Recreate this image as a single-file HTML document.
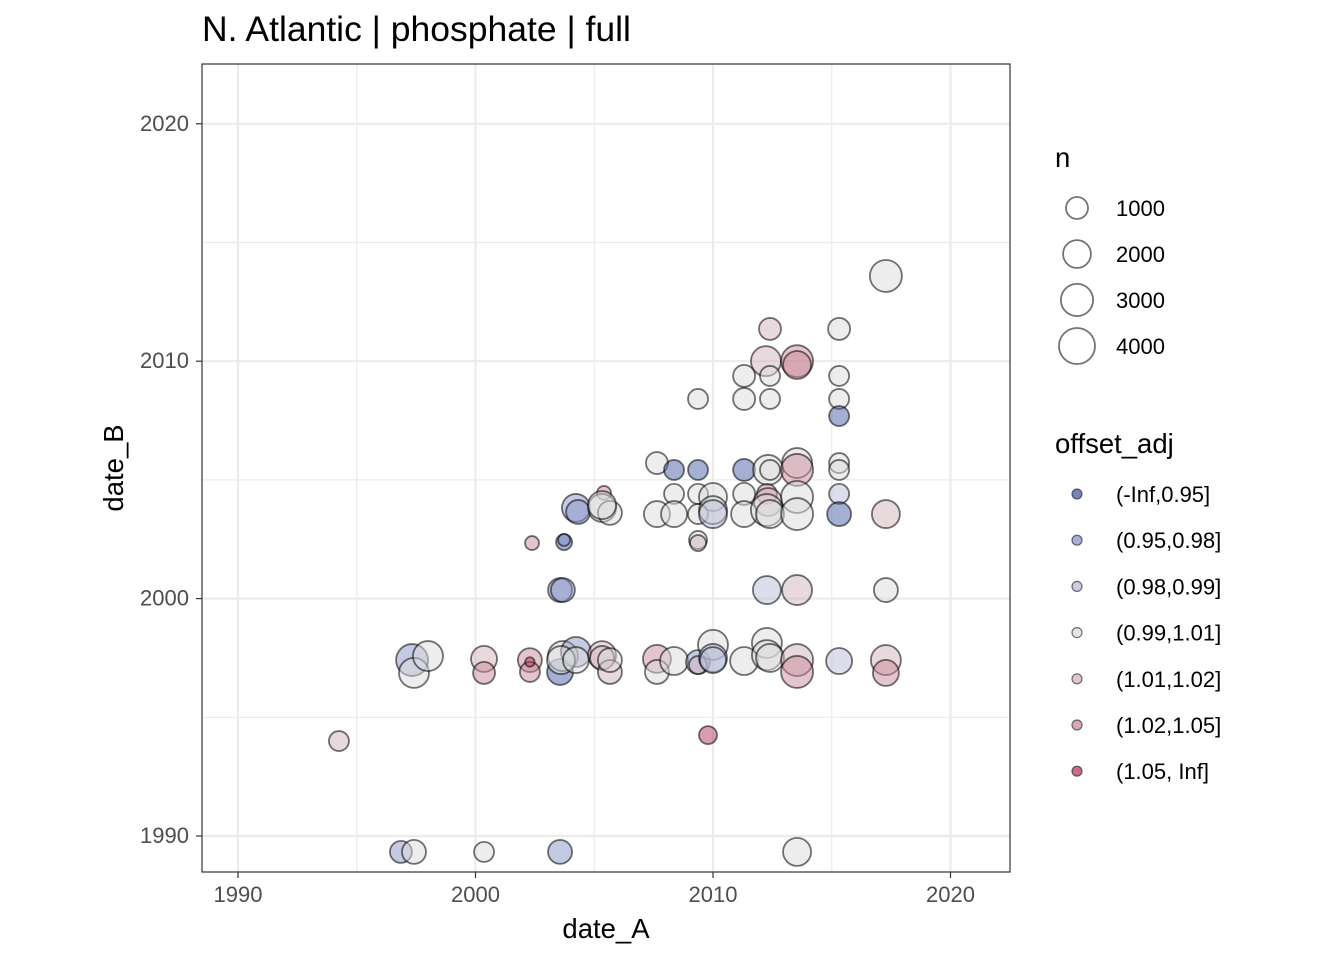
<!DOCTYPE html>
<html><head><meta charset="utf-8"><style>
body{margin:0;background:#fff;font-family:"Liberation Sans",sans-serif}
svg text{font-family:"Liberation Sans",sans-serif}
</style></head><body>
<svg id="chart" width="1344" height="960" xmlns="http://www.w3.org/2000/svg">
<text x="202" y="41" font-size="35.5" fill="#000">N. Atlantic | phosphate | full</text>
<rect x="202" y="64" width="808" height="808" fill="#fff"/>
<g id="grid"></g>
<g id="pts"></g>
<rect x="202" y="64" width="808" height="808" fill="none" stroke="#333" stroke-width="1.2"/>
<g id="axes"></g>
<text x="606" y="938" font-size="27.5" text-anchor="middle">date_A</text>
<text transform="translate(123,468) rotate(-90)" font-size="27.5" text-anchor="middle">date_B</text>
<g id="legend"></g>
</svg>
<script>
const dateA=[1994.25,1996.86,1997.41,2000.36,2003.56,2013.54,1997.33,1997.41,1998.0,2000.36,2000.36,2002.29,2002.29,2002.29,2003.56,2003.68,2004.23,2003.6,2004.23,2005.33,2005.33,2005.66,2005.66,2002.38,2003.73,2003.73,2003.56,2003.68,2004.23,2004.32,2005.41,2005.33,2005.66,2005.33,2009.79,2012.4,2015.31,2012.23,2013.54,2013.54,2011.31,2012.4,2015.31,2009.37,2011.31,2012.4,2015.31,2015.31,2007.64,2008.36,2009.37,2011.31,2012.32,2012.4,2013.54,2013.54,2015.31,2015.31,2008.36,2009.37,2010.0,2011.31,2012.27,2012.32,2013.54,2015.31,2007.64,2008.36,2009.37,2010.0,2010.0,2011.31,2012.27,2012.4,2013.54,2015.31,2017.28,2009.37,2009.37,2017.28,2012.27,2013.54,2017.28,2007.64,2007.64,2008.36,2009.37,2009.37,2010.0,2010.0,2010.0,2011.31,2012.27,2012.27,2012.4,2013.54,2013.54,2015.31,2017.28,2017.28];
const dateB=[1994.0,1989.33,1989.33,1989.33,1989.33,1989.33,1997.41,1996.87,1997.58,1997.46,1996.87,1997.41,1996.91,1997.33,1996.91,1997.58,1997.75,1997.41,1997.41,1997.62,1997.5,1996.91,1997.41,2002.34,2002.38,2002.47,2000.36,2000.36,2003.82,2003.65,2004.45,2003.82,2003.61,2003.94,1994.25,2011.36,2011.36,2010.0,2010.0,2009.84,2009.38,2009.38,2009.38,2008.41,2008.41,2008.41,2008.41,2007.69,2005.71,2005.42,2005.42,2005.42,2005.42,2005.42,2005.71,2005.42,2005.71,2005.42,2004.41,2004.41,2004.28,2004.41,2004.41,2004.07,2004.28,2004.41,2003.56,2003.56,2003.56,2003.73,2003.56,2003.56,2003.73,2003.56,2003.56,2003.56,2003.56,2002.47,2002.34,2013.59,2000.36,2000.36,2000.36,1997.46,1996.91,1997.37,1997.33,1997.2,1998.05,1997.5,1997.41,1997.37,1998.13,1997.62,1997.5,1997.41,1996.91,1997.37,1997.41,1996.87];
const nObs=[734,999,1304,734,1304,2038,2935,2466,2466,1651,999,1304,734,10,1651,2466,2466,2038,1651,2038,1304,1304,1304,183,326,82,1304,1304,2038,1304,183,2038,1304,2038,510,999,999,2466,2935,2038,999,734,734,734,999,734,734,734,999,734,734,999,2466,734,2466,2935,734,734,734,734,2038,999,734,2038,2935,734,1651,1651,734,2038,2038,1651,2935,2038,2935,1304,2038,510,326,2935,2038,2466,1304,2038,1304,2038,1304,510,2466,2038,1651,2038,2466,2466,2038,2935,2935,1651,2466,1651];
const offsetCat=[4,1,3,3,1,3,1,3,3,4,5,5,5,6,0,3,1,3,3,4,4,4,3,5,0,1,1,1,1,1,5,3,3,3,6,4,3,4,5,5,3,3,3,3,3,3,3,0,3,0,0,0,3,3,3,5,3,3,3,3,3,3,5,4,3,2,3,3,3,3,2,3,3,3,3,0,4,3,4,3,2,4,3,5,3,3,1,4,3,2,2,3,3,3,3,4,5,2,4,5];
const xTicks=[1990,2000,2010,2020], yTicks=[1990,2000,2010,2020];
const legendN=[1000,2000,3000,4000];
const catLabels=["(-Inf,0.95]","(0.95,0.98]","(0.98,0.99]","(0.99,1.01]","(1.01,1.02]","(1.02,1.05]","(1.05, Inf]"];
const catColors=["#4a5fa8","#8a96c6","#b9bdd8","#dcdcdc","#d2b4bc","#c98a9b","#b23c62"];
const NS="http://www.w3.org/2000/svg";
const X=v=>238+(v-1990)*23.75, Y=v=>836-(v-1990)*23.74, R=n=>4+0.2215*Math.sqrt(n);
function mk(t,a,p){const e=document.createElementNS(NS,t);for(const k in a)e.setAttribute(k,a[k]);p.appendChild(e);return e;}
const grid=document.getElementById('grid');
for(let v=1985;v<=2025;v+=5){
 if(X(v)>202&&X(v)<1010){
 const g1=mk('line',{x1:X(v),x2:X(v),y1:64,y2:872,stroke:'#ebebeb','stroke-width':v%10?1.2:2.2},grid);
 
 
 }
 if(Y(v)>64&&Y(v)<872){
 const g2=mk('line',{x1:202,x2:1010,y1:Y(v),y2:Y(v),stroke:'#ebebeb','stroke-width':v%10?1.2:2.2},grid);
 
 
 }
}
const pts=document.getElementById('pts');
for(let i=0;i<dateA.length;i++){
 const c=mk('circle',{cx:X(dateA[i]),cy:Y(dateB[i]),r:R(nObs[i]),fill:catColors[offsetCat[i]],'fill-opacity':0.5,stroke:'rgba(0,0,0,0.55)','stroke-width':1.8},pts);
 
 
}
const ax=document.getElementById('axes');
xTicks.forEach(v=>{
 const l=mk('line',{x1:X(v),x2:X(v),y1:872,y2:878,stroke:'#333','stroke-width':1.2},ax);
 
 
 const t=mk('text',{x:X(v),y:902,'font-size':22,fill:'#4d4d4d','text-anchor':'middle'},ax);t.textContent=v;
 
 
});
yTicks.forEach(v=>{
 const l=mk('line',{x1:196,x2:202,y1:Y(v),y2:Y(v),stroke:'#333','stroke-width':1.2},ax);
 
 
 const t=mk('text',{x:189,y:Y(v)+7,'font-size':22,fill:'#4d4d4d','text-anchor':'end'},ax);t.textContent=v;
 
 
});
const lg=document.getElementById('legend');
let tt=mk('text',{x:1055,y:167,'font-size':27.5},lg);tt.textContent='n';


legendN.forEach((n,i)=>{
 const y=208+i*46;
 const c=mk('circle',{cx:1077,cy:y,r:R(n),fill:'none',stroke:'rgba(0,0,0,0.55)','stroke-width':1.8},lg);
 
 
 const t=mk('text',{x:1116,y:y+8,'font-size':22},lg);t.textContent=n;
 
 
});
tt=mk('text',{x:1055,y:453,'font-size':27.5},lg);tt.textContent='offset_adj';


catLabels.forEach((s,i)=>{
 const y=494+i*46.2;
 const c=mk('circle',{cx:1077,cy:y,r:5,fill:catColors[i],'fill-opacity':0.75,stroke:'rgba(0,0,0,0.55)','stroke-width':1.2},lg);
 
 
 const t=mk('text',{x:1116,y:y+8,'font-size':22},lg);t.textContent=s;
 
 
});
</script>
</body></html>
